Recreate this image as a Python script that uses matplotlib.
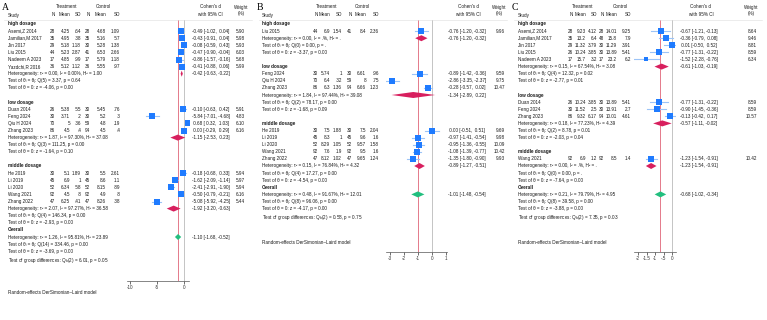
import numpy as np
import matplotlib.pyplot as plt
from matplotlib.lines import Line2D

plt.rcParams['font.family'] = ['Liberation Sans', 'DejaVu Sans']
plt.rcParams['mathtext.fontset'] = 'custom'
plt.rcParams['mathtext.rm'] = 'Liberation Sans'
plt.rcParams['mathtext.it'] = 'Liberation Sans:italic'

W, H = 767, 320
FS = 3.3
SQ_BLUE = "#1f7bff"
CI_BLUE = "#9cc4f7"
SUB_RED = "#d81f5e"
ALL_GREEN = "#22bf7f"
REF_RED = "#e4798a"
ZERO_GRAY = "#c4c4c4"

groups = ["high dosage", "low dosage", "middle dosage"]

# ---------------- panel A ----------------
a_names = ["Asemi,Z 2014", "Jamilian,M 2017", "Jin 2017", "Liu 2015", "Nadeem A 2023", "Yazdchi,R 2016",
           "Duan 2014", "Feng 2024", "Qiu H 2024", "Zhang 2023",
           "He 2019", "Li 2019", "Li 2020", "Wang 2021", "Zhang 2022"]
a_grp = [0, 0, 0, 0, 0, 0, 1, 1, 1, 1, 2, 2, 2, 2, 2]
a_n1 = [28, 35, 29, 44, 17, 36, 26, 30, 70, 86, 30, 45, 52, 92, 47]
a_m1 = [4.25, 4.95, 5.18, 5.23, 4.85, 5.12, 5.38, 3.71, 5, 4.5, 5.1, 6.9, 6.34, 4.5, 6.25]
a_sd1 = [.64, .38, 1.18, 2.87, .99, 1.12, .55, .2, .36, .4, 1.89, 1, .58, .8, .41]
a_n2 = [28, 35, 30, 41, 17, 36, 30, 30, 59, 94, 30, 45, 52, 92, 47]
a_m2 = [4.68, 5.16, 5.28, 6.53, 5.79, 5.55, 5.45, 5.2, 4.8, 4.5, 5.5, 8.6, 8.15, 4.9, 8.26]
a_sd2 = [1.09, .57, 1.38, 2.66, 1.18, .97, .76, .3, .19, .4, 2.61, 1.1, .89, .8, .38]
a_es = [-0.49, -0.43, -0.08, -0.47, -0.86, -0.41, -0.10, -5.84, 0.68, 0.00, -0.18, -1.62, -2.41, -0.50, -5.08]
a_lo = [-1.02, -0.91, -0.59, -0.90, -1.57, -0.88, -0.63, -7.01, 0.32, -0.29, -0.68, -2.09, -2.91, -0.79, -5.92]
a_hi = [0.04, 0.04, 0.43, -0.04, -0.16, 0.06, 0.42, -4.68, 1.03, 0.29, 0.33, -1.14, -1.90, -0.21, -4.25]
a_wt = [5.90, 5.98, 5.93, 6.03, 5.68, 5.99, 5.91, 4.83, 6.10, 6.16, 5.94, 5.97, 5.94, 6.16, 5.44]
a_sub_es = [-0.42, -1.15, -1.92]
a_sub_lo = [-0.63, -2.53, -3.20]
a_sub_hi = [-0.22, 0.23, -0.63]
a_sub_tau2 = [0.00, 1.87, 2.07]
a_sub_i2 = [0.00, 97.30, 97.27]
a_sub_h2 = [1.00, 37.08, 36.58]
a_sub_qdf = [5, 3, 4]
a_sub_q = [3.37, 111.25, 146.34]
a_sub_qp = [0.64, 0.00, 0.00]
a_sub_z = [-4.06, -1.64, -2.93]
a_sub_zp = [0.00, 0.10, 0.00]
a_all = [-1.10, -1.68, -0.52]
a_all_het = [1.26, 95.81, 23.89]
a_all_q = [14, 334.46, 0.00]
a_all_z = [-3.69, 0.00]
a_qb = [2, 6.01, 0.05]

# ---------------- panel B ----------------
b_names = ["Liu 2015",
           "Feng 2024", "Qiu H 2024", "Zhang 2023",
           "He 2019", "Li 2019", "Li 2020", "Wang 2021", "Zhang 2022"]
b_grp = [0, 1, 1, 1, 2, 2, 2, 2, 2]
b_n1 = [44, 30, 70, 86, 30, 45, 52, 92, 47]
b_m1 = [6.9, 5.74, 6.4, 6.3, 7.5, 8.3, 8.29, 7.6, 8.12]
b_sd1 = [1.54, 1, .32, 1.36, 1.88, 1, 1.05, 1.9, 1.02]
b_n2 = [41, 30, 59, 94, 30, 45, 52, 92, 47]
b_m2 = [8.4, 6.61, 8, 6.66, 7.5, 9.6, 9.57, 9.5, 9.65]
b_sd2 = [2.36, .96, .75, 1.23, 2.04, 1.6, 1.58, 1.6, 1.24]
b_es = [-0.76, -0.89, -2.86, -0.28, 0.00, -0.97, -0.95, -1.08, -1.35]
b_lo = [-1.20, -1.42, -3.35, -0.57, -0.51, -1.41, -1.36, -1.39, -1.80]
b_hi = [-0.32, -0.36, -2.37, 0.02, 0.51, -0.54, -0.55, -0.77, -0.90]
b_wt = [9.96, 9.59, 9.75, 10.47, 9.69, 9.98, 10.09, 10.42, 9.93]
b_sub_es = [-0.76, -1.34, -0.89]
b_sub_lo = [-1.20, -2.89, -1.27]
b_sub_hi = [-0.32, 0.22, -0.51]
b_sub_tau2 = [0.00, 1.84, 0.15]
b_sub_i2 = [np.nan, 97.44, 76.84]
b_sub_h2 = [np.nan, 39.08, 4.32]
b_sub_qdf = [0, 2, 4]
b_sub_q = [0.00, 78.17, 17.27]
b_sub_qp = [np.nan, 0.00, 0.00]
b_sub_z = [-3.37, -1.68, -4.54]
b_sub_zp = [0.00, 0.09, 0.00]
b_all = [-1.01, -1.48, -0.54]
b_all_het = [0.48, 91.67, 12.01]
b_all_q = [8, 96.06, 0.00]
b_all_z = [-4.17, 0.00]
b_qb = [2, 0.58, 0.75]

# ---------------- panel C ----------------
c_names = ["Asemi,Z 2014", "Jamilian,M 2017", "Jin 2017", "Liu 2015", "Nadeem A 2023",
           "Duan 2014", "Feng 2024", "Zhang 2023",
           "Wang 2021"]
c_grp = [0, 0, 0, 0, 0, 1, 1, 1, 2]
c_n1 = [28, 35, 29, 26, 17, 26, 30, 86, 92]
c_m1 = [9.23, 13.2, 11.32, 10.24, 15.7, 10.24, 11.52, 9.32, 6.9]
c_sd1 = [4.12, 6.4, 3.79, 3.85, 3.2, 3.85, 2.5, 6.17, 1.2]
c_n2 = [28, 48, 30, 30, 17, 30, 30, 94, 92]
c_m2 = [14.01, 15.8, 11.29, 13.89, 23.2, 13.89, 13.91, 10.01, 8.5]
c_sd2 = [9.25, 7.9, 3.91, 5.41, 6.2, 5.41, 2.7, 4.61, 1.4]
c_es = [-0.67, -0.36, 0.01, -0.77, -1.52, -0.77, -0.90, -0.13, -1.23]
c_lo = [-1.21, -0.79, -0.50, -1.31, -2.28, -1.31, -1.45, -0.42, -1.54]
c_hi = [-0.13, 0.08, 0.52, -0.22, -0.76, -0.22, -0.36, 0.17, -0.91]
c_wt = [8.64, 9.46, 8.81, 8.59, 6.34, 8.59, 8.59, 10.57, 10.42]
c_sub_es = [-0.61, -0.57, -1.23]
c_sub_lo = [-1.03, -1.11, -1.54]
c_sub_hi = [-0.19, -0.02, -0.91]
c_sub_tau2 = [0.15, 0.18, 0.00]
c_sub_i2 = [67.54, 77.23, np.nan]
c_sub_h2 = [3.08, 4.39, np.nan]
c_sub_qdf = [4, 2, 0]
c_sub_q = [12.32, 8.78, 0.00]
c_sub_qp = [0.02, 0.01, np.nan]
c_sub_z = [-2.77, -2.03, -7.64]
c_sub_zp = [0.01, 0.04, 0.00]
c_all = [-0.68, -1.02, -0.34]
c_all_het = [0.21, 79.79, 4.95]
c_all_q = [8, 39.58, 0.00]
c_all_z = [-3.88, 0.00]
c_qb = [2, 7.35, 0.03]


def sfmt(v):
    s = f"{v:g}"
    if s.startswith("0."):
        s = s[1:]
    elif s.startswith("-0."):
        s = "-" + s[2:]
    return s


def f2(v, pct=False):
    if np.isnan(v):
        return "." + ("%" if pct else "")
    return f"{v:.2f}" + ("%" if pct else "")


def het_line(t2, i2, h2):
    return f"Heterogeneity: τ² = {t2:.2f}, I² = {f2(i2, True)}, H² = {f2(h2)}"


fig = plt.figure(figsize=(W / 100, H / 100), dpi=100)


def ftext(x, y, s, **kw):
    kw.setdefault("fontsize", FS)
    kw.setdefault("va", "center")
    kw.setdefault("color", "#1a1a1a")
    fig.text(x / W, 1 - y / H, s, **kw)


def draw_panel(p):
    y0, step, top = 24, 7.1, 20
    ry = lambda r: y0 + r * step
    axl, axr = p["ax_px"]
    axis_y = p["axis_y"]
    ax = fig.add_axes([axl / W, 1 - axis_y / H, (axr - axl) / W, (axis_y - top) / H])
    (t0, px0), (t1, px1) = p["tick_map"]
    k = (px1 - px0) / (t1 - t0)
    ax.set_xlim(t0 - (px0 - axl) / k, t1 + (axr - px1) / k)
    ax.set_ylim((axis_y - y0) / step, (top - y0) / step)

    # headers
    ftext(p["off"] + 2, 8, p["letter"], fontsize=7, family="Liberation Serif", color="black")
    ftext(p["tcen"], 7, "Treatment", ha="center")
    ftext(p["ccen"], 7, "Control", ha="center")
    ftext(p["study_x"], 15, "Study")
    for x, lab in zip(p["cols"], ["N", "Mean", "SD", "N", "Mean", "SD"]):
        ftext(x, 15, lab, ha="right")
    ftext(p["es_cen"], 7, "Cohen's d", ha="center")
    ftext(p["es_cen"], 14, "with 95% CI", ha="center")
    ftext(p["wt_cen"], 7, "Weight", ha="center")
    ftext(p["wt_cen"], 14, "(%)", ha="center")
    fig.add_artist(Line2D([(p["off"] + 4) / W, (p["off"] + 252) / W], [1 - top / H] * 2,
                          transform=fig.transFigure, color="#dddddd", lw=0.4))

    ax.axvline(0, color=ZERO_GRAY, lw=0.7, zorder=1)
    ax.axvline(p["all"][0], color=REF_RED, lw=0.7, zorder=1)

    wmax = max(p["wt"])
    hh = 3.0 / step
    r = 0
    for g, gname in enumerate(groups):
        if g > 0:
            r += 1
        ftext(p["study_x"], ry(r), gname, fontweight="bold")
        r += 1
        for i in [j for j, gg in enumerate(p["grp"]) if gg == g]:
            y = ry(r)
            ftext(p["study_x"], y, p["names"][i])
            vals = [p["n1"][i], p["m1"][i], p["sd1"][i], p["n2"][i], p["m2"][i], p["sd2"][i]]
            for x, v in zip(p["cols"], vals):
                ftext(x, y, sfmt(v), ha="right")
            ftext(p["es_x"], y, f"{p['es'][i]:5.2f} [{p['lo'][i]:5.2f}, {p['hi'][i]:5.2f}]")
            ftext(p["wt_right"], y, f"{p['wt'][i]:.2f}", ha="right")
            ax.plot([p["lo"][i], p["hi"][i]], [r, r], color=CI_BLUE, lw=0.8, zorder=2)
            side = 6.3 * np.sqrt(p["wt"][i] / wmax) * 0.72
            ax.scatter([p["es"][i]], [r], marker="s", s=side ** 2, color=SQ_BLUE, lw=0, zorder=3)
            r += 1
        es, lo, hi = p["sub_es"][g], p["sub_lo"][g], p["sub_hi"][g]
        ax.fill([lo, es, hi, es], [r, r - hh, r, r + hh], color=SUB_RED, lw=0, zorder=3)
        ftext(p["study_x"], ry(r), het_line(p["sub_tau2"][g], p["sub_i2"][g], p["sub_h2"][g]))
        ftext(p["es_x"], ry(r), f"{es:5.2f} [{lo:5.2f}, {hi:5.2f}]")
        r += 1
        ftext(p["study_x"], ry(r), f"Test of θᵢ = θⱼ: Q({p['sub_qdf'][g]}) = {p['sub_q'][g]:.2f}, "
                                   f"p = {f2(p['sub_qp'][g])}")
        r += 1
        ftext(p["study_x"], ry(r), f"Test of θ = 0: z = {p['sub_z'][g]:.2f}, p = {p['sub_zp'][g]:.2f}")
        r += 1

    ftext(p["study_x"], ry(r), "Overall", fontweight="bold")
    r += 1
    es, lo, hi = p["all"]
    ax.fill([lo, es, hi, es], [r, r - hh, r, r + hh], color=ALL_GREEN, lw=0, zorder=3)
    ftext(p["study_x"], ry(r), het_line(*p["all_het"]))
    ftext(p["es_x"], ry(r), f"{es:5.2f} [{lo:5.2f}, {hi:5.2f}]")
    r += 1
    df, q, qp = p["all_q"]
    ftext(p["study_x"], ry(r), f"Test of θᵢ = θⱼ: Q({df}) = {q:.2f}, p = {qp:.2f}")
    r += 1
    z, zp = p["all_z"]
    ftext(p["study_x"], ry(r), f"Test of θ = 0: z = {z:.2f}, p = {zp:.2f}")
    r += 1.3
    df, qb, qbp = p["qb"]
    ftext(p["study_x"], ry(r), f"Test of group differences: $\\mathregular{{Q_b}}$({df}) = {qb:.2f}, p = {qbp:.2f}")
    ftext(p["study_x"], p["note_y"], "Random-effects DerSimonian–Laird model")

    for sp in ["top", "left", "right"]:
        ax.spines[sp].set_visible(False)
    ax.spines["bottom"].set_linewidth(0.5)
    ax.spines["bottom"].set_color("#555555")
    ax.set_yticks([])
    ax.set_xticks(p["ticks"])
    ax.set_xticklabels(p["ticklabels"])
    ax.tick_params(axis="x", length=2, width=0.5, labelsize=FS, pad=1, colors="#333333")
    ax.patch.set_alpha(0)


panels = [
    dict(letter="A", off=0, study_x=8, cols=[55, 70, 81, 90, 106, 120], tcen=67, ccen=103,
         ax_px=(127, 189), tick_map=((-10, 130), (0, 184)), es_x=192, es_cen=210, wt_right=245, wt_cen=241,
         axis_y=281, note_y=293, ticks=[-10, -5, 0], ticklabels=["-10", "-5", "0"],
         names=a_names, grp=a_grp, n1=a_n1, m1=a_m1, sd1=a_sd1, n2=a_n2, m2=a_m2, sd2=a_sd2,
         es=a_es, lo=a_lo, hi=a_hi, wt=a_wt, sub_es=a_sub_es, sub_lo=a_sub_lo, sub_hi=a_sub_hi,
         sub_tau2=a_sub_tau2, sub_i2=a_sub_i2, sub_h2=a_sub_h2, sub_qdf=a_sub_qdf, sub_q=a_sub_q,
         sub_qp=a_sub_qp, sub_z=a_sub_z, sub_zp=a_sub_zp, all=a_all, all_het=a_all_het,
         all_q=a_all_q, all_z=a_all_z, qb=a_qb),
    dict(letter="B", off=255, study_x=262, cols=[318, 330, 342, 352, 366, 379], tcen=327, ccen=362,
         ax_px=(386, 447), tick_map=((-3, 390), (1, 446)), es_x=448, es_cen=468, wt_right=505, wt_cen=499,
         axis_y=252, note_y=243, ticks=[-3, -2, -1, 0, 1], ticklabels=["-3", "-2", "-1", "0", "1"],
         names=b_names, grp=b_grp, n1=b_n1, m1=b_m1, sd1=b_sd1, n2=b_n2, m2=b_m2, sd2=b_sd2,
         es=b_es, lo=b_lo, hi=b_hi, wt=b_wt, sub_es=b_sub_es, sub_lo=b_sub_lo, sub_hi=b_sub_hi,
         sub_tau2=b_sub_tau2, sub_i2=b_sub_i2, sub_h2=b_sub_h2, sub_qdf=b_sub_qdf, sub_q=b_sub_q,
         sub_qp=b_sub_qp, sub_z=b_sub_z, sub_zp=b_sub_zp, all=b_all, all_het=b_all_het,
         all_q=b_all_q, all_z=b_all_z, qb=b_qb),
    dict(letter="C", off=510, study_x=518, cols=[573, 586, 597, 604, 617, 631], tcen=583, ccen=620,
         ax_px=(634, 676), tick_map=((-2, 638), (0, 672)), es_x=680, es_cen=701, wt_right=757, wt_cen=751,
         axis_y=252, note_y=243, ticks=[-2, -1.5, -1, -0.5, 0], ticklabels=["-2", "-1.5", "-1", "-.5", "0"],
         names=c_names, grp=c_grp, n1=c_n1, m1=c_m1, sd1=c_sd1, n2=c_n2, m2=c_m2, sd2=c_sd2,
         es=c_es, lo=c_lo, hi=c_hi, wt=c_wt, sub_es=c_sub_es, sub_lo=c_sub_lo, sub_hi=c_sub_hi,
         sub_tau2=c_sub_tau2, sub_i2=c_sub_i2, sub_h2=c_sub_h2, sub_qdf=c_sub_qdf, sub_q=c_sub_q,
         sub_qp=c_sub_qp, sub_z=c_sub_z, sub_zp=c_sub_zp, all=c_all, all_het=c_all_het,
         all_q=c_all_q, all_z=c_all_z, qb=c_qb),
]

for p in panels:
    draw_panel(p)

fig.savefig("out.png", dpi=100)
plt.close(fig)
